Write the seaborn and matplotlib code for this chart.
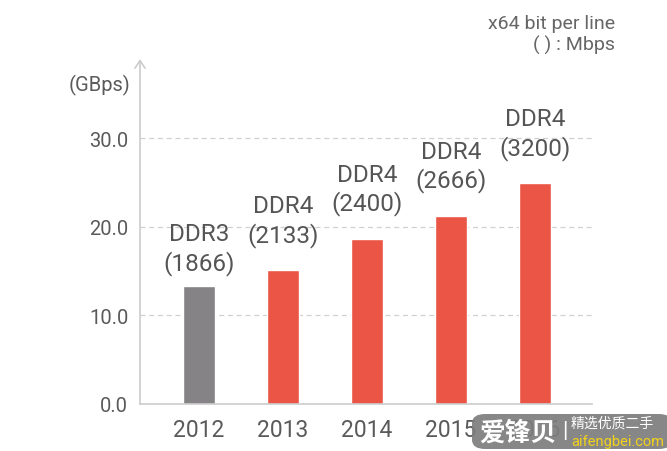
import matplotlib
matplotlib.use("Agg")
import matplotlib.pyplot as plt
import seaborn as sns
import pandas as pd
from matplotlib.patches import FancyBboxPatch

years = ["2012", "2013", "2014", "2015", "2016"]
bandwidth = [13.3, 15.1, 18.6, 21.2, 24.9]
dram_type = ["DDR3", "DDR4", "DDR4", "DDR4", "DDR4"]
speed_mbps = ["1866", "2133", "2400", "2666", "3200"]
y_ticks = [0.0, 10.0, 20.0, 30.0]

sns.set_theme(style="white")
plt.rcParams["font.family"] = ["Roboto", "Noto Sans CJK SC", "DejaVu Sans"]

df = pd.DataFrame({"year": years, "bw": bandwidth, "type": dram_type})
palette = {"DDR3": "#858385", "DDR4": "#EB5545"}

fig = plt.figure(figsize=(6.67, 4.52), dpi=100)
ax = fig.add_axes([0.2099, 0.104, 0.8876 - 0.2099, 0.867 - 0.104])

sns.barplot(data=df, x="year", y="bw", hue="type", palette=palette,
            dodge=False, width=0.38, legend=False, ax=ax, saturation=1)

ax.set_xlim(-0.70, 4.68)
ax.set_ylim(0, 38.9)
ax.set_yticks(y_ticks)
ax.set_yticklabels([f"{v:.1f}" for v in y_ticks])
ax.set_xlabel("")
ax.set_ylabel("")

grid_c = "#d0d0d0"
for v in y_ticks[1:]:
    ax.axhline(v, color=grid_c, lw=0.9, ls=(0, (4, 3)), zorder=0)

for s in ["top", "right", "left"]:
    ax.spines[s].set_visible(False)
ax.spines["bottom"].set_color("#cccccc")
ax.spines["bottom"].set_linewidth(1.2)

ax.annotate("", xy=(0, 1), xytext=(0, 0), xycoords="axes fraction",
            arrowprops=dict(arrowstyle="->,head_length=0.45,head_width=0.3",
                            color="#cccccc", lw=1.2, shrinkA=0, shrinkB=0))

ax.tick_params(axis="y", length=0, pad=8.5, labelsize=14.5, labelcolor="#5a5a5a")
ax.tick_params(axis="x", length=0, pad=10, labelsize=16.5, labelcolor="#5a5a5a")

label_offsets = [8, 17, 17, 17, 17]
for i, (t, sp, v) in enumerate(zip(dram_type, speed_mbps, bandwidth)):
    ax.annotate(f"{t}\n({sp})", xy=(i, v), xytext=(0, label_offsets[i]),
                textcoords="offset points", ha="center", va="bottom",
                fontsize=17.5, color="#555555", linespacing=1.25)

fig.text(130 / 667, 1 - 85 / 452, "(GBps)", ha="right", va="center",
         fontsize=14.5, color="#5a5a5a")

fig.text(615 / 667, 1 - 35 / 452, "x64 bit per line\n( ) : Mbps", ha="right",
         va="center", fontsize=14, color="#666666", linespacing=1.2, ma="right")

# watermark
box = FancyBboxPatch((472 / 667, 2 / 452), 200 / 667, 35 / 452,
                     boxstyle="round,pad=0,rounding_size=0.02",
                     transform=fig.transFigure, facecolor="#7d7d7d",
                     edgecolor="none", alpha=0.92, zorder=10)
fig.patches.append(box)
fig.text(479 / 667, 1 - 433 / 452, "爱锋贝", ha="left", va="center",
         fontsize=18.5, fontweight="bold", color="white",
         family=["Noto Sans CJK SC"], zorder=11)
fig.text(565 / 667, 1 - 432 / 452, "|", ha="center", va="center",
         fontsize=16, color="white", zorder=11)
fig.text(571 / 667, 1 - 424 / 452, "精选优质二手", ha="left", va="center",
         fontsize=10, color="white", family=["Noto Sans CJK SC"], zorder=11)
fig.text(571 / 667, 1 - 442 / 452, "aifengbei.com", ha="left", va="center",
         fontsize=10.5, color="#f2d21b", zorder=11)

fig.savefig("out.png", dpi=100)
